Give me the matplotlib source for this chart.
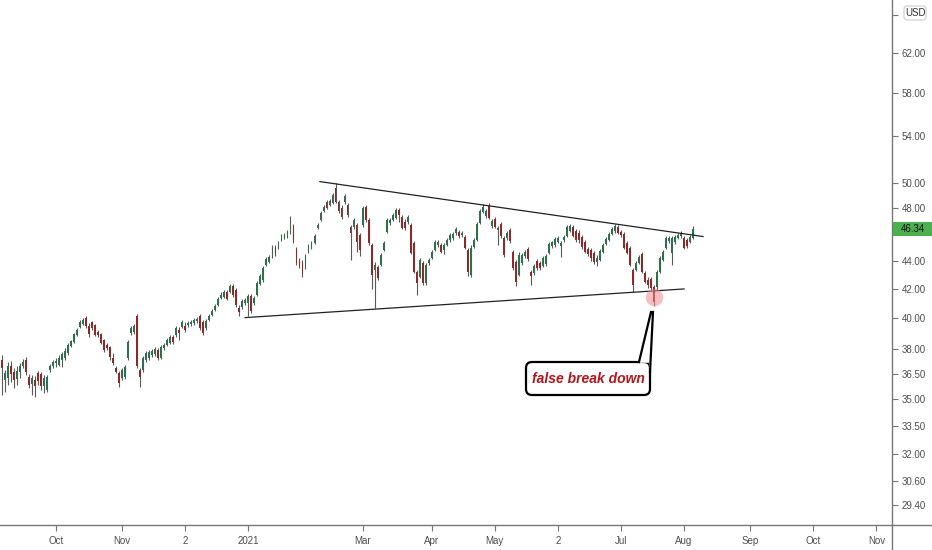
import matplotlib.pyplot as plt
from matplotlib.patches import FancyBboxPatch, Polygon, Rectangle
from matplotlib.lines import Line2D
from matplotlib.ticker import FixedLocator, NullLocator, FuncFormatter
from matplotlib.transforms import IdentityTransform

# daily candles, early Sep 2020 -> early Aug 2021
opens = [
    37.34, 36.13, 36.25, 36.98, 36.61, 36.19, 36.61, 36.98, 37.34, 36.31,
    35.89, 36.13, 36.55, 36.49, 35.77, 35.54, 36.73, 36.98, 37.16, 37.04,
    37.34, 37.47, 37.78, 38.22, 38.47, 38.92, 39.43, 39.63, 40.02, 39.50,
    39.76, 39.56, 39.11, 38.98, 38.60, 38.28, 38.15, 37.47, 36.85, 36.55,
    36.25, 36.31, 37.47, 39.05, 39.11, 40.15, 36.73, 36.73, 37.34, 37.47,
    37.65, 37.71, 37.96, 37.47, 38.09, 38.28, 38.41, 38.79, 38.92, 39.24,
    39.43, 39.50, 39.56, 39.63, 39.69, 39.82, 40.15, 39.76, 39.37, 39.89,
    40.22, 40.55, 40.89, 41.36, 41.43, 41.77, 41.77, 42.19, 41.91, 40.69,
    40.75, 41.02, 41.02, 41.50, 41.02, 41.57, 42.33, 42.61, 43.68, 43.90,
    44.26, 44.99, 44.92, 45.51, 45.66, 45.74, 46.04, 46.57, 44.84, 43.97,
    43.90, 43.54, 44.62, 44.99, 45.29, 46.42, 47.04, 47.74, 48.46, 48.22,
    48.38, 49.59, 48.46, 47.98, 48.46, 48.22, 46.50, 46.50, 46.65, 45.89,
    46.65, 48.06, 47.04, 45.14, 43.32, 43.54, 43.68, 44.77, 46.12, 46.81,
    47.04, 47.20, 47.82, 47.28, 46.88, 46.88, 46.65, 45.29, 43.18, 42.82,
    43.83, 42.40, 43.83, 44.18, 44.77, 45.14, 45.14, 44.77, 45.14, 45.51,
    45.66, 46.04, 46.12, 45.89, 45.74, 44.77, 42.96, 44.99, 45.51, 46.81,
    47.66, 47.35, 48.14, 46.57, 47.12, 46.27, 46.73, 45.66, 45.66, 46.27,
    44.62, 43.90, 42.96, 43.83, 44.33, 44.84, 43.18, 43.10, 43.97, 43.83,
    43.61, 43.76, 44.55, 45.07, 45.14, 45.36, 45.07, 45.51, 45.82, 46.20,
    46.50, 46.20, 46.04, 45.74, 45.36, 44.84, 44.77, 44.55, 43.90, 44.04,
    44.62, 45.21, 45.51, 45.97, 46.20, 46.50, 46.12, 45.97, 45.29, 44.92,
    43.32, 43.32, 43.83, 44.48, 43.10, 42.61, 42.68, 42.12, 42.12, 43.18,
    44.04, 44.92, 45.44, 44.55, 45.36, 45.66, 45.82, 45.66, 45.51, 45.36, 45.66,
]
highs = [
    37.65, 36.73, 37.22, 37.28, 36.85, 36.98, 37.16, 37.40, 37.53, 36.49,
    36.43, 36.37, 36.67, 36.61, 36.43, 36.43, 37.10, 37.34, 37.47, 37.65,
    37.84, 38.09, 38.41, 38.60, 39.05, 39.37, 39.89, 40.02, 40.15, 39.69,
    39.82, 39.63, 39.24, 39.05, 38.66, 38.41, 38.22, 37.78, 36.98, 36.67,
    36.85, 37.04, 38.60, 39.50, 39.63, 40.29, 36.85, 37.59, 37.90, 37.96,
    38.02, 38.15, 38.09, 38.28, 38.41, 38.73, 38.92, 38.92, 39.50, 39.43,
    39.89, 39.76, 39.82, 39.89, 40.02, 40.09, 40.29, 39.89, 39.96, 40.29,
    40.62, 40.96, 41.43, 41.77, 41.91, 41.91, 42.33, 42.33, 42.05, 40.89,
    41.29, 41.36, 41.64, 41.64, 41.50, 42.54, 43.03, 43.61, 44.26, 44.40,
    45.14, 45.14, 45.44, 45.97, 46.04, 46.27, 47.35, 46.73, 44.99, 44.18,
    44.04, 44.48, 45.21, 45.44, 45.97, 46.81, 47.74, 48.22, 48.62, 48.70,
    49.18, 50.00, 48.62, 48.22, 49.10, 48.38, 46.65, 47.20, 46.81, 46.04,
    48.14, 48.22, 47.20, 45.29, 43.90, 43.68, 44.55, 45.44, 47.20, 47.20,
    47.59, 47.98, 47.98, 47.43, 47.12, 47.43, 46.81, 45.44, 43.32, 44.18,
    43.97, 43.83, 44.18, 44.77, 45.51, 45.51, 45.29, 45.29, 45.66, 46.04,
    46.12, 46.50, 46.27, 46.20, 45.89, 44.92, 45.14, 45.66, 46.88, 47.90,
    48.30, 47.90, 48.38, 47.12, 47.28, 46.57, 46.88, 45.82, 46.20, 46.42,
    44.77, 44.04, 44.62, 44.55, 44.77, 44.99, 43.32, 43.76, 44.11, 43.97,
    44.33, 44.48, 45.36, 45.44, 45.74, 45.82, 45.44, 45.89, 46.65, 46.73,
    46.65, 46.35, 46.27, 45.89, 45.51, 44.99, 44.92, 44.70, 44.40, 44.84,
    45.29, 45.74, 46.12, 46.50, 46.73, 46.65, 46.27, 46.12, 45.44, 45.07,
    43.47, 43.97, 44.40, 44.62, 43.25, 42.82, 42.82, 42.26, 43.32, 44.33,
    44.77, 45.82, 45.82, 45.82, 45.89, 46.04, 46.20, 45.82, 45.66, 45.89, 46.57,
]
lows = [
    35.25, 35.42, 35.83, 36.01, 35.65, 35.83, 36.25, 36.85, 36.43, 35.65,
    35.25, 35.13, 35.83, 35.54, 35.37, 35.42, 36.61, 36.85, 36.92, 36.98,
    36.92, 37.34, 37.65, 38.15, 38.41, 38.86, 39.37, 39.56, 39.37, 38.79,
    39.24, 38.86, 38.79, 38.35, 37.84, 37.96, 37.34, 37.04, 36.55, 35.71,
    36.13, 36.19, 37.34, 38.92, 38.98, 36.85, 35.71, 36.61, 37.22, 37.34,
    37.53, 37.59, 37.34, 37.40, 37.96, 38.22, 38.35, 38.35, 38.79, 38.60,
    39.37, 39.11, 39.43, 39.50, 39.56, 39.69, 39.24, 38.92, 39.24, 39.82,
    40.15, 40.48, 40.82, 41.29, 41.36, 41.22, 41.70, 41.43, 40.75, 40.15,
    40.62, 40.89, 40.15, 40.35, 40.89, 41.50, 42.26, 42.47, 43.61, 43.83,
    44.18, 44.33, 44.84, 45.44, 45.59, 45.66, 45.97, 45.29, 43.68, 43.47,
    42.82, 43.39, 44.55, 44.84, 45.21, 46.35, 46.96, 47.66, 47.90, 48.14,
    48.30, 48.38, 47.59, 47.12, 48.30, 47.28, 44.04, 46.35, 44.62, 44.33,
    46.50, 46.88, 45.14, 41.98, 40.69, 42.61, 43.61, 44.70, 46.04, 46.65,
    46.96, 47.12, 46.88, 46.35, 46.27, 46.73, 44.48, 43.10, 41.57, 42.75,
    42.26, 42.26, 43.68, 44.11, 44.70, 44.99, 44.55, 44.48, 45.07, 45.36,
    45.51, 45.89, 45.66, 45.74, 44.84, 42.89, 42.82, 44.92, 45.44, 46.73,
    47.59, 47.20, 47.12, 46.42, 46.42, 45.14, 45.66, 44.26, 45.51, 45.29,
    43.32, 42.19, 42.89, 43.68, 44.18, 43.97, 42.26, 42.96, 43.32, 43.32,
    43.54, 43.61, 44.48, 44.92, 44.99, 45.29, 44.26, 45.36, 45.74, 46.12,
    45.74, 45.36, 45.29, 44.84, 44.55, 44.33, 43.97, 43.76, 43.61, 43.97,
    44.55, 45.14, 45.44, 45.89, 46.04, 45.97, 45.74, 44.84, 44.48, 43.61,
    41.77, 43.25, 43.76, 43.10, 42.40, 42.05, 41.91, 40.82, 41.91, 43.10,
    43.97, 44.84, 45.29, 43.68, 45.21, 45.59, 45.66, 44.84, 44.92, 45.29, 45.59,
]
closes = [
    36.85, 36.55, 36.98, 36.49, 36.13, 36.67, 36.98, 37.22, 36.61, 35.83,
    36.25, 35.77, 36.07, 35.77, 36.25, 36.31, 36.98, 37.22, 37.28, 37.47,
    37.71, 37.90, 38.28, 38.54, 38.98, 39.24, 39.76, 39.89, 39.50, 38.98,
    39.37, 38.92, 38.92, 38.41, 37.96, 38.09, 37.53, 37.16, 36.61, 35.95,
    36.73, 36.92, 38.47, 39.37, 39.50, 36.98, 36.31, 37.47, 37.78, 37.84,
    37.90, 38.02, 37.47, 38.15, 38.28, 38.60, 38.79, 38.47, 39.37, 39.05,
    39.76, 39.24, 39.69, 39.76, 39.89, 39.96, 39.37, 39.05, 39.82, 40.15,
    40.48, 40.82, 41.29, 41.57, 41.77, 41.29, 42.19, 41.57, 40.89, 40.42,
    41.16, 41.22, 41.50, 40.48, 41.36, 42.40, 42.89, 43.47, 44.11, 44.26,
    44.92, 44.48, 45.29, 45.82, 45.89, 46.12, 46.57, 45.44, 43.83, 43.61,
    43.03, 44.33, 45.07, 45.29, 45.82, 46.65, 47.58, 48.06, 47.98, 48.54,
    49.02, 48.46, 47.74, 47.28, 48.94, 47.43, 46.04, 47.04, 45.36, 44.77,
    47.98, 47.04, 45.29, 42.96, 43.68, 42.75, 44.40, 45.29, 47.04, 47.04,
    47.43, 47.82, 47.43, 46.42, 46.42, 47.28, 44.55, 43.18, 42.40, 44.04,
    42.40, 43.68, 44.04, 44.62, 45.36, 45.36, 44.62, 45.14, 45.51, 45.89,
    45.97, 46.35, 45.82, 46.04, 44.92, 43.18, 44.92, 45.51, 46.73, 47.74,
    48.06, 47.74, 47.20, 46.96, 46.50, 46.42, 45.82, 44.40, 46.04, 45.44,
    43.47, 42.47, 44.40, 44.40, 44.62, 44.11, 42.89, 43.61, 43.47, 43.47,
    44.18, 44.33, 45.21, 45.36, 45.59, 45.66, 45.29, 45.74, 46.50, 46.57,
    45.82, 45.51, 45.51, 44.99, 44.62, 44.48, 44.18, 43.90, 44.18, 44.70,
    45.14, 45.59, 45.97, 46.35, 46.57, 46.04, 45.89, 44.92, 44.55, 43.68,
    42.26, 43.83, 44.26, 43.18, 42.47, 42.26, 42.05, 41.09, 43.18, 44.18,
    44.62, 45.66, 45.66, 45.66, 45.74, 45.89, 46.04, 44.92, 45.07, 45.74, 46.34,
]

# x axis: bar index of each month label
month_pos = [18, 40, 61, 82, 120, 143, 164, 185, 206, 227, 249, 270, 291]
month_labels = ["Oct", "Nov", "2", "2021", "Mar", "Apr", "May", "2",
                "Jul", "Aug", "Sep", "Oct", "Nov"]
price_ticks = [29.4, 30.6, 32, 33.5, 35, 36.5, 38, 40, 42, 44, 46, 48,
               50, 54, 58, 62, 66]
# these tick labels sit under the price tag and the currency box
covered_ticks = [46, 66]

# triangle trendlines (bar index, price)
upper_x, upper_y = [105.8, 233.3], [50.12, 45.78]
lower_x, lower_y = [80.9, 227.0], [40.05, 41.99]
last_price = 46.34

RED = "#8b2a2a"
GREEN = "#2f6e4e"
WICK = "#5a5a5a"
AXC = "#777777"
TXT = "#4d4d4d"

W, H = 932, 550
fig = plt.figure(figsize=(W / 100, H / 100), dpi=100)
ax = fig.add_axes([0, 25 / H, 892 / W, 525 / H])

x = list(range(len(closes)))
cols = [GREEN if c >= o else RED for o, c in zip(opens, closes)]
bottoms = [min(o, c) for o, c in zip(opens, closes)]
heights = [max(abs(c - o), 0.04) for o, c in zip(opens, closes)]

ax.vlines(x, lows, highs, colors=WICK, lw=0.8, zorder=2)
ax.bar(x, heights, bottom=bottoms, width=0.62, color=cols, lw=0, zorder=3)

ax.plot(upper_x, upper_y, color="#222222", lw=0.9, zorder=4)
ax.plot(lower_x, lower_y, color="#222222", lw=0.9, zorder=4)

# highlight of the false break candle
fb = min(range(200, len(lows)), key=lambda i: lows[i])
ax.plot(fb, 41.43, "o", ms=12.5, color="#f08a8a", alpha=0.55, mec="none", zorder=5)

ax.set_yscale("log")
ax.set_ylim(28.45, 67.62)
ax.set_xlim(-0.67, 296.2)


def price_fmt(v, pos):
    if any(abs(v - c) < 1e-6 for c in covered_ticks):
        return ""
    return f"{v:.2f}"


ax.yaxis.tick_right()
ax.yaxis.set_major_locator(FixedLocator(price_ticks))
ax.yaxis.set_minor_locator(NullLocator())
ax.yaxis.set_major_formatter(FuncFormatter(price_fmt))
ax.set_xticks(month_pos, month_labels)
ax.xaxis.set_minor_locator(NullLocator())

ax.tick_params(axis="both", direction="out", length=4, width=0.8, color=AXC,
               labelsize=7, labelcolor=TXT)
ax.tick_params(axis="y", pad=3)
ax.tick_params(axis="x", pad=4)
for lab in ax.get_xticklabels() + ax.get_yticklabels():
    lab.set_fontfamily("Liberation Sans")

for s in ["top", "left"]:
    ax.spines[s].set_visible(False)
for s in ["right", "bottom"]:
    ax.spines[s].set_color(AXC)
    ax.spines[s].set_linewidth(1)

ident = IdentityTransform()

# axis lines carried on past the plot corner
fig.add_artist(Line2D([892, 892], [0, 25], color=AXC, lw=1, transform=ident))
fig.add_artist(Line2D([892, 932], [25, 25], color=AXC, lw=1, transform=ident))

# last price label
fig.add_artist(Rectangle((893, H - 236), 39, 14, fc="#4caf50", ec="none",
                         transform=ident, zorder=5))
fig.text(912.5 / W, 1 - 229 / H, f"{last_price:.2f}", ha="center", va="center",
         fontsize=7, color="#111111", fontfamily="Liberation Sans", zorder=6)

# currency box
fig.add_artist(FancyBboxPatch((904, H - 20), 22, 14,
                              boxstyle="round,pad=0,rounding_size=3",
                              fc="white", ec="#cccccc", lw=0.8,
                              transform=ident, zorder=5))
fig.text(915 / W, 1 - 13 / H, "USD", ha="center", va="center", fontsize=7,
         color="#333333", fontfamily="Liberation Sans", zorder=6)

# callout box with pointer
fig.add_artist(FancyBboxPatch((526, H - 395), 124, 33,
                              boxstyle="round,pad=0,rounding_size=6",
                              fc="white", ec="black", lw=1.6,
                              transform=ident, zorder=5))
fig.add_artist(Polygon([(639, H - 362.8), (651, H - 312), (653, H - 312),
                        (650.3, H - 369), (649.2, H - 369), (649.2, H - 362.8)],
                       closed=True, fc="white", ec="none", transform=ident,
                       zorder=6))
fig.add_artist(Line2D([639, 651, 653, 650], [H - 362, H - 312, H - 312, H - 372],
                      color="black", lw=1.6, solid_joinstyle="miter",
                      transform=ident, zorder=7))
fig.text(588 / W, 1 - 379 / H, "false break down", ha="center", va="center",
         fontsize=10, fontweight="bold", fontstyle="italic", color="#b0161b",
         fontfamily="Liberation Sans", zorder=8)

fig.savefig("out.png", dpi=100)
